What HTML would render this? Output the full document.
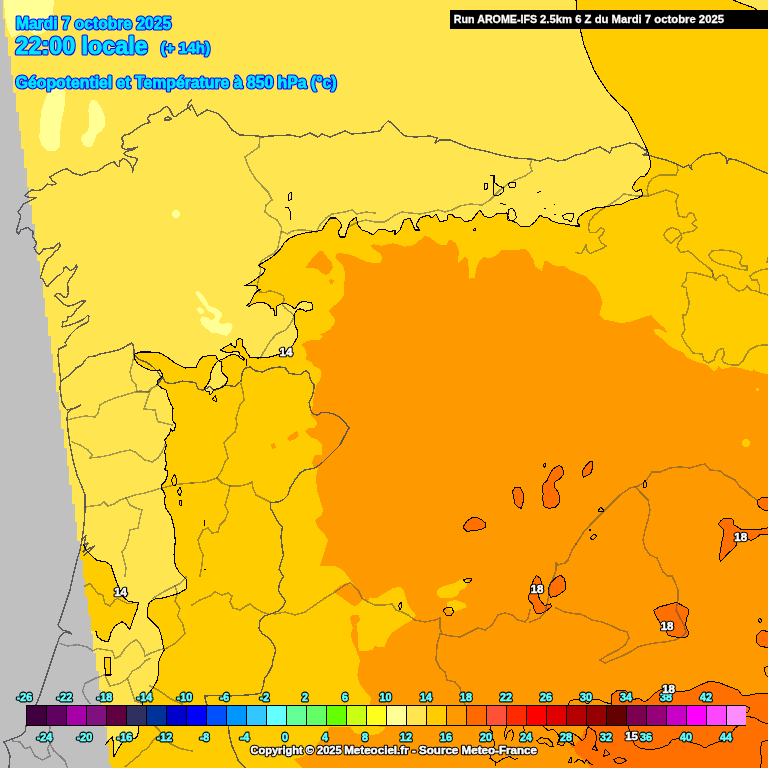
<!DOCTYPE html>
<html><head><meta charset="utf-8"><title>Meteociel AROME 850hPa</title>
<style>
html,body{margin:0;padding:0;background:#FFE650;}
body{width:768px;height:768px;overflow:hidden;font-family:"Liberation Sans",sans-serif;}
svg{display:block;will-change:transform;transform:translateZ(0)}
text{font-family:"Liberation Sans",sans-serif;font-weight:bold;}
.lg{font-size:10.3px;fill:#66FFFF;stroke:#000;stroke-width:2px;paint-order:stroke;text-anchor:middle;stroke-linejoin:round}
.t{fill:#00E1FF;stroke:#0A14FF;stroke-width:2px;paint-order:stroke;stroke-linejoin:round}
.w{fill:#fff;stroke:#000;stroke-width:2px;paint-order:stroke;stroke-linejoin:round}
</style></head><body>
<svg width="768" height="768" viewBox="0 0 768 768">
<rect width="768" height="768" fill="#FFE650"/>
<g shape-rendering="crispEdges">
<polygon points="576,0 577,10 580,28 584,45 588,55 594,70 600,80 608,92 620,105 628,112 635,125 640,135 645,145 648,152 650,160 651,166 648,172 645,176 640,177 636,181 632,188 636,192 641,189 643,195 638,198 630,200 622,204 615,205 605,207 595,208 585,212 579,217 577,222 580,226 575,226 565,224 558,223 552,221 548,218 543,217 540,215 535,222 530,226 524,227 520,226 517,223 512,221 508,220 507,213 496,214 494,216 490,218 484,216 480,210 478,212 472,220 465,222 460,217 455,218 452,214 448,215 447,220 440,222 438,218 436,214 432,218 428,215 420,218 416,225 420,230 415,230 413,225 410,218 404,220 400,230 395,235 395,230 390,232 384,229 378,230 373,235 368,232 362,230 358,225 356,217 350,222 347,230 345,237 340,237 338,232 342,226 340,222 336,218 330,218 325,225 322,230 316,231.5 306.3,232.7 297,235 288.8,238.5 284,243.2 280.5,249 275.9,253.8 270,258.5 263,262.6 258.3,265.5 261.8,267.3 265.3,269.6 263,273.7 258.3,277.2 253.6,280.8 248.9,283.7 244.8,285.4 248.9,286 254.8,285.4 257.1,286.6 257.7,289 260.6,289.5 257.1,291.3 254.8,293.6 252.4,298.3 250,303 246.6,305.4 248.9,306.5 252.4,304.2 255.9,303 263,302.4 267.6,304.2 270,306.5 271.2,308.9 273.5,308.3 274.1,311.2 274.7,315.3 276.4,315.3 276.4,310 277,306 280.5,304.2 285.2,303 288.8,304.8 292.3,306.5 294.6,308.9 295.8,307.7 299.3,303 302.8,301.3 306.3,301.3 307.5,302.4 311.6,303 312.8,306 312.2,309.5 308.7,310.6 305.2,311.2 302.8,309.5 299.9,308.9 297,310 295.2,312.4 294,315 295,325 298,332 297,338 293,345 288,350 280,354 270,357 258,358 250,357.5 248.6,354.5 246.3,352.5 245.5,348.6 243.1,347 242.3,340 240,338 236.9,340 236.9,344.7 235.3,347.4 231.8,345.5 231.4,343.5 229,345 224.4,347.4 220,350.2 224.4,351.7 229,352.9 233.8,351.7 238.4,351.3 240,354.8 242,356.8 244.7,359 244,360.3 240,358 238.4,355.6 233.8,354.5 229,355.2 224.4,358.4 218.5,360.7 217,358.4 215.8,355.6 212.7,355.2 207.2,356 202.5,356.8 199.8,359.5 197.8,363.4 195.9,367.7 190,367.7 185,368 175,363 167,357 160,353 150,352 140,352 135,354 134,358 138,364 145,368 150,370 155,371 159.6,370 163,375 161.3,377.6 158,380.2 157,384.4 161.3,387.8 166.4,390.3 168,397 170.6,403.8 173.1,408 172.3,415.7 173.1,421.6 175.3,424 174.8,430 172.3,431 170.6,428.4 169.8,433.5 166.4,437.7 164.7,440.2 166.4,445.3 164.7,451.2 165.5,458 166.4,464 164.7,469.8 168,470.7 167.2,475.8 165.5,480.8 161.3,485 161.3,488.4 163.8,491.8 165.5,496 164.3,500 165.7,508.2 171.2,516.4 174,527.3 175.3,541 174,554.7 175.3,565.6 179.4,572.5 186.2,579.3 186.2,588.9 179.4,593 171.2,595.7 163,597.9 154.8,599 149.3,602.5 147.4,609.4 148,617.6 152,621.7 158.9,628.5 161.6,636.7 163,645 164.3,649.9 160.2,657.2 158,664 158.9,672.3 157,680.5 153.4,687.3 149.3,692.8 146.6,696.9 142.7,702.4 142,705 138.8,725.8 138.4,731.7 137.5,736.2 135,738.4 129,739.5 122.5,742 118,749.2 114,756.4 113.4,747.3 112.8,736.9 109.5,739.5 105.4,744.7 100,745 100,768 768,768 768,0" fill="#FFCC00"/>
<polygon points="733,0 743,4 754,8 757,10 768,10 768,0" fill="#FFE650"/>
<polygon points="218.5,360.7 221.3,361.9 222,366.6 221.6,371.3 223.6,374.4 226.7,376.7 227.9,379 226.7,382.2 225.2,385.3 221.3,387.7 216.6,388.8 213.4,390 211.9,393.1 210,394.7 209.1,391.6 206.4,391.2 204,389.2 206.4,385.7 208.8,382.2 210.2,379 210.7,373.6 212.7,368.1 215.8,363.4" fill="#FFE650"/>
<polygon points="80,545 83.7,545 86.4,550.6 91.9,556 97.3,560.7 105.5,561.5 111,565.6 113.8,573.8 116.5,582 120.6,591.6 123.3,597 128.8,601.7 138.4,602.5 137,609.4 134.3,616.2 131.5,624.4 129.6,629.9 126,624.4 122,621.7 115,625.8 111,632.6 109.6,638 108.3,641.6 102.8,640.8 97.3,636.7 96,631.3 80,631" fill="#FFCC00"/>
<polygon points="104.2,657.2 110.5,657.2 111,675 105.5,675" fill="#FFCC00"/>
<polygon points="768,374.6 762.7,373.2 756.9,371.5 753.4,369.2 752.2,371.5 744,369.2 738.3,367.6 731.4,367 726.7,368 722,369.2 718.6,366.2 717,369.2 714,371.5 708.2,365.3 701.2,363 694.3,361 687.3,357.6 682.7,352.3 675.7,349.5 670,346 664.2,340.7 659.5,336.8 654.9,333.3 653.7,328.7 659.5,329 667.6,333.3 664.2,327.5 659.5,324 654.9,319.4 651.4,315.2 645.6,316.6 636.3,319.9 629.4,322.2 620,322.9 613.2,321.3 603.9,319.4 599.3,314.8 600.4,310 602.7,302 599.3,292.7 594.6,284.6 591.7,282.3 585.4,276 577,273 569.8,269.8 563.5,265.6 558.3,266.7 552,264.6 547.9,261.5 544.8,260.4 541.7,270.8 535.4,266.7 533.3,259.4 529.2,253 525,249 518.8,249.6 510.4,250.4 502,249.6 497.9,254.2 491.7,257.9 483.3,257.3 479.2,261.5 476,268.8 475,277.5 468.8,278.8 468.8,268.8 467.7,259.4 464.6,256.7 461.5,260.4 457.5,264.2 458.3,257.5 459.2,251.7 457.5,246.7 455,242.5 450.8,239.7 448.3,240.8 446.7,245.3 440,244.7 435,241.7 430,237.5 425,235.8 420,240 416.7,243.3 411.7,245.8 405,246.7 398.3,244.7 393.3,243.3 388.3,244.2 381.7,245.8 373.3,244.2 370,245.8 375,250 380,253.3 382.5,257.5 380,262.5 373.3,263 366.7,261.7 360,259.2 353.3,255.8 346.7,253.7 340,253.3 336,253.7 335.3,258 338,260.6 341.2,263.2 343.8,267 345,273 344.5,280.8 343.8,288.6 344.5,295 340,300.3 335,305 328.3,310.8 332.5,315.8 335,320 334.2,324.2 330,329.2 325,332.5 320,334.2 323.3,336.7 319.2,340 311.7,340 305.8,341.7 301.7,344.7 305,348.3 306.7,355 305.8,359.2 311.7,362.5 313.3,365.8 320,369.2 321.7,373.3 320,380 317,384 315.8,386.7 314.2,393.3 313.3,400 312.5,406.7 310.8,413.3 311.7,416.7 315.8,420 317.5,424.2 314.2,428 308,428 305,432 310,437 318,440 322,445 322,455 315,455 312,462 314,468 318,468 316,478 317,490 320,500 323,510 322,515 315,520 318,527 325,535 328,540 325,550 322,560 320,566 335,566 342.8,570 347.3,575.5 351,581 355.5,587.3 361.9,591.9 363.7,597.3 367.4,601.9 370,597.3 376.5,598.2 383.8,593.7 392.9,588.2 400,586.4 403.8,590 405.6,597.3 407.4,602.8 411,609.2 414.7,612.8 415.6,615.5 411,621 405.6,623.7 398.3,628.3 392,632.8 387.4,639.2 384.7,646.5 380,647.4 374.6,645.6 372.8,650 365.5,651 359.2,651 358,645 357.5,637 357.5,632 356.4,624.6 360,621 359.2,615.5 353.7,614.6 350,617.4 351,622.8 352.8,628.3 351,633.7 351.9,641 355.5,648.3 358.3,655.6 360,661 358.3,668.4 357.3,675.6 359.2,683 362.8,688.4 367.4,693.9 371,697.5 370,704.8 372,726 385.8,727 383.8,730 377.5,734.3 365,735.5 354.6,733 350.4,727 329.6,727 323.3,736.3 317,744 310.8,751 302.5,757 294,759 298,763.4 302.5,768 310,768 768,768" fill="#FF9900"/>
<polygon points="305.4,267.8 312.5,258 319,251.5 322.3,250.8 325.6,255.4 332,262.5 332.7,267.8 329.5,273 325.6,275 321.7,273 317.8,269 311.3,267.8" fill="#FF9900"/>
<polygon points="328.8,280 331.4,278.8 334,280.8 332,284.7 330,283.4" fill="#FF9900"/>
<polygon points="287,438 292,434 297,431 299,436 295,439 289,441" fill="#FF9900"/>
<polygon points="271,444 275,443 276,448 272,449" fill="#FF9900"/>
<polygon points="333.7,591 340,585.5 347.3,582.8 355.5,587.3 363.7,593.7 362.8,600 358.3,604.6 353.7,606.4 349,602.8 343.7,599 337.3,594.6" fill="#FF9900"/>
<polygon points="437,590 440,588 447,585 455,583 460,580 465,578 468,582 466,588 460,590 458,595 452,598 440,598 437,595" fill="#FFCC00"/>
<polygon points="447,602 455,600 465,603 467,607 460,610 452,612 447,608" fill="#FFCC00"/>
<circle cx="746" cy="443" r="4" fill="#FFCC00"/>
<rect x="756" y="388" width="3" height="3" fill="#FFCC00"/>
<polygon points="462.9,527.2 466.9,521.3 471.8,517.7 476.8,517.3 481.7,519.7 485.7,523.3 485.3,527.2 480.7,529.6 473.8,530.8 466.9,531.2" fill="#FF7000" stroke="#000" stroke-width="1" stroke-linejoin="round"/>
<polygon points="512.4,491.6 515,487.2 520.3,487.6 523.3,493.6 523.3,501.5 521.3,508.4 517.3,506.5 514.4,503.5 513.8,496.6" fill="#FF7000" stroke="#000" stroke-width="1" stroke-linejoin="round"/>
<polygon points="549,475.8 553,468.8 558.9,465.5 562.9,467.8 563.3,474.8 559.9,478.7 555,481.7 554,486.7 557.9,491.6 559.9,497.5 558.9,503.5 555,507.4 549,508.4 544.1,506.5 542.7,499.5 543.1,493.6 542.1,488.6 543.5,483.7 547,480.7" fill="#FF7000" stroke="#000" stroke-width="1" stroke-linejoin="round"/>
<polygon points="582.7,470.8 585.7,465.9 589.6,461.9 593,461.5 592.6,467.8 590.6,473.8 586.7,475.8 583.1,477.3" fill="#FF7000" stroke="#000" stroke-width="1" stroke-linejoin="round"/>
<polygon points="718.2,524.4 720.7,520.7 724,518.6 731.5,518.3 733.2,520.3 733.6,524.8 737.3,526.9 741.5,529.8 749.8,530 757.3,529.8 765.7,528.2 769,527.8 769,534 760.7,534.2 755.7,538.2 751.5,540.3 749,539.8 747.3,538.2 736.5,541.5 736,545.7 732.3,549.8 727.3,554 724,558.2 720.7,561.5 719.4,558.2 719.8,554 721,547.3 722.3,539.8 724,532.3 723.2,529 720.7,526.5" fill="#FF7000" stroke="#000" stroke-width="1" stroke-linejoin="round"/>
<polygon points="769,498 763,497 758,500 757.3,504 759,506.5 762.3,509.4 765.7,510.5 769,510.7" fill="#FF7000" stroke="#000" stroke-width="1" stroke-linejoin="round"/>
<polygon points="534,579.2 536.4,575.6 540,578 541.9,584 541,590 538,595 540,600 544.7,605.5 550.7,603.9 551.5,606.7 547.1,610.3 541.2,613.4 536.4,613.9 534,609 532.8,604.3 529.2,600.7 528,597 530.5,592 531.5,585" fill="#FF7000" stroke="#000" stroke-width="1" stroke-linejoin="round"/>
<polygon points="548.3,588.8 550.7,582.8 555.5,578 560.3,575.1 563.9,578 565.8,584 565.1,590 560.3,593.6 555.5,596.7 550.7,597.1 548.3,593.6" fill="#FF7000" stroke="#000" stroke-width="1" stroke-linejoin="round"/>
<polygon points="653.8,610.3 659.7,606.7 669.3,604.3 676.5,602.4 682.5,605.5 688.5,609.1 689,612.7 686.6,617.5 685.6,624.7 687.3,629.5 689,633 687.3,636.7 681.3,637.9 674.1,636.7 668.1,635.5 665.7,630.7 662.1,625.9 657.4,618.7 655,613.9" fill="#FF7000" stroke="#000" stroke-width="1" stroke-linejoin="round"/>
<polygon points="769,632 762,630 757,635 756,642 760,646 769,648" fill="#FF7000" stroke="#000" stroke-width="1" stroke-linejoin="round"/>
<polygon points="590.8,768 586.7,762.7 582.5,758.5 576.3,754.3 574.2,748 576.3,742.9 581.5,737.7 583.5,731.4 587.7,726 611,726 611,705 611,695 618,690 625,690 630,695 633,700 638,698 645,702 650,698 655,693 660,690 665,688 672,690 680,692 690,690 700,685 710,681 720,683 730,687 738,690 742,695 750,695 760,693 768,693 768,768" fill="#FF7000"/>
<polyline points="611,705 611,695 618,690 625,690 630,695 633,700 638,698 645,702 650,698 655,693 660,690 665,688 672,690 680,692 690,690 700,685 710,681 720,683 730,687 738,690 742,695 750,695 760,693 768,693" fill="none" stroke="#000" stroke-width="1" stroke-linejoin="round" stroke-linecap="round" opacity="1"/>
<polygon points="570,744 573,743 576,745 575,748 571,748" fill="#FF7000"/>
<polygon points="4,0 54,0 53,12 50,25 44,33 35,35 28,30 20,33 12,38 8,30 5,15" fill="#FFFF96"/>
<polygon points="48.3,92 52,89 62,89 65,92 65.3,100 64,110 61.7,120 60,133 59.7,146.7 55,151.3 47.5,150.8 41.7,145 39.2,138.3 40.3,123.3 40.8,111.7 44.2,101.7" fill="#FFFF96"/>
<polygon points="91.7,100 96.7,100.8 101.7,108.3 105.3,118.3 105,125.8 101.7,130.8 96.7,134.2 95,140 92.5,145.8 88.3,147.5 83.3,145 80.8,139.2 82,135 85.8,133.3 88.3,130 89.2,120 88.3,110 89.7,103.3" fill="#FFFF96"/>
<polygon points="195.1,292.4 198.8,290.8 202.9,295 206.6,301.3 209.2,306 214.4,307.5 218.5,309.6 222.7,314.8 220.1,319 218.5,322 221.7,324.2 226.9,323 231,322.6 232.6,326.3 231,331.5 226.9,336 222.7,335 217.5,333.5 211.3,332.5 206,328.3 200.8,323 200.3,319 202.4,316.4 207,317.4 211.3,320 214.4,319 214.9,314.8 211.3,312.7 207,310 205,306.5 200.8,301.3 197.2,296" fill="#FFFF96"/>
<polygon points="197.2,308.5 199.8,307 203.4,309.6 204,312.7 200.8,313.8 197.7,311.7" fill="#FFFF96"/>
<circle cx="176" cy="214" r="4" fill="#FFFF96"/>
<polygon points="2.8,0.0 2.8,18.6 5.4,18.6 5.4,37.3 8.1,37.3 8.1,55.9 10.7,55.9 10.7,74.6 13.4,74.6 13.4,93.2 16.1,93.2 16.1,111.9 18.7,111.9 18.7,130.5 21.4,130.5 21.4,149.2 24.0,149.2 24.0,167.8 26.7,167.8 26.7,186.5 29.4,186.5 29.4,205.1 32.0,205.1 32.0,223.8 34.7,223.8 34.7,242.4 37.3,242.4 37.3,261.1 40.0,261.1 40.0,279.8 42.7,279.8 42.7,298.4 45.3,298.4 45.3,317.0 48.0,317.0 48.0,335.7 50.6,335.7 50.6,354.3 53.3,354.3 53.3,373.0 56.0,373.0 56.0,391.6 58.6,391.6 58.6,410.3 61.3,410.3 61.3,428.9 63.9,428.9 63.9,447.6 66.6,447.6 66.6,466.2 69.2,466.2 69.2,484.9 71.9,484.9 71.9,503.5 74.6,503.5 74.6,522.2 77.2,522.2 77.2,540.8 79.9,540.8 79.9,559.5 82.6,559.5 82.6,578.1 85.2,578.1 85.2,596.8 87.9,596.8 87.9,615.4 90.5,615.4 90.5,634.1 93.2,634.1 93.2,652.8 95.9,652.8 95.9,671.4 98.5,671.4 98.5,690.0 101.2,690.0 101.2,708.7 103.8,708.7 103.8,727.3 106.5,727.3 106.5,746.0 109.2,746.0 109.2,764.6 111.8,764.6 111.8,768 0,768 0,0" fill="#C0C0C0"/>
<polyline points="192,100 188.7,102.5 187.5,107.5 191,110" fill="none" stroke="#4d4d55" stroke-width="1.4" stroke-linejoin="round" stroke-linecap="round" opacity="0.9"/>
<polyline points="192,105 185,110 180,113 175,117 172.5,115 170,110 167.5,106.3 163.7,107.5 160,111.3 155,113.7 150,115 147.5,118.7 150,122.5 145,123.7 140,126.3 135,130 130,133.7 125,135 121.3,137.5 123.7,142.5 121.3,147.5 125,149.5 131.3,148.7 137.5,147 132.5,150 126.3,151.3 123.7,153.7 127.5,156.3 133.7,157.5 137.5,158.7 136.3,162.5 133.7,166.3 132.5,172.5 132.5,168.3 130,163.3 126.7,160 123.3,158.3 120,160.8 119.2,166.7 116.7,165.8 114.2,161.7 110,163.3 105,165.8 101.7,168.3 96.7,171.7 91.7,171.3 86.7,173.3 81.7,175.3 76.7,174.2 71.7,172.5 67.5,168.7 63.3,169.7 58.3,172 53.3,175 50,177 51.7,180 54.7,182.5 56.7,183.7 52.5,185 47.5,184.2 45,186.7 41.7,189.7 36.7,190.8 31.7,189.7 28.3,192.5 25,195.8 29.2,197.5 36.7,197.5 31.7,200 26.7,202.5 23.3,204.2 20.8,208.3 18,211.7 20.8,215.8 19.2,221.7 17.5,227.5 16.3,230.8 18.3,234.2 20.8,230 25,228.3 28.3,227.5 30.8,230 33.3,231.7 32.5,236.7 35,240 36.7,243.3 34.2,247.5 35.8,251.7 39.2,254.2 41.7,252.5 43.3,249.2 48.3,248.3 53.3,248 57.5,244.2 59.2,243 60.3,245.8 58.3,249.2 55,251.7 51.7,255.8 47.5,259.2 45,263.3 43.3,268.3 41.7,273.3 40.3,277.5 43.3,280 45.8,285 47.5,286.7 50,283.3 54.2,279.2 57.5,275.8 60.8,274.2 63.3,271.7 64.2,267.5 66.3,266.3 68.3,269.2 70.8,270.8 74.2,268.3 76.7,265 77,267.5 75,271.7 72.5,275.8 69.2,280 67.5,283.3 68,288.3 68.3,293.3 66.7,297.5 63.3,297 60.8,294.2 57.5,293.3 54.7,295.8 58.3,298.3 60.8,301.7 63.3,304.2 68.3,306.2 73.3,305 78.3,302.5 82.5,300.8 85.8,301.2 81.7,305 76.7,309.2 72,316 68,317 67,321 63,322 62,327 70,325 78,322 84,319 88,315 89,316 88,322 82,325 76,329 70,335 67,340 65,343 67,345 63,347 59,349 58,355 59,365 60,375 61,381" fill="none" stroke="#4d4d55" stroke-width="1.4" stroke-linejoin="round" stroke-linecap="round" opacity="0.9"/>
<polyline points="165,118 168,117 172,119 169,120 165,120" fill="none" stroke="#4d4d55" stroke-width="1.4" stroke-linejoin="round" stroke-linecap="round" opacity="0.9"/>
<polyline points="192,105 197,116 207,110 217,113 225,120 232,130 240,135 258,136 262,137 270,136 290,135 300,137 310,133 318,137 322,134 330,137 345,131 352,134 365,133 380,131 384,125 388,121 392,123 400,132 405,136 415,137 430,136 437,138 435,143 440,140 450,140 460,144 470,148 485,151 500,155 515,158 530,159 540,161 548,158 558,161 565,160 576,155 585,153 590,150 600,147 605,150 610,153 612,148 620,146 630,143 636,144 642,148 648,152 643,155 648.5,155 656,157.5 666,160 676,163.7 683.5,167.5 688.5,165 692,170 691,165 696,160 703.5,155 712,153.7 720,152.5 726,157.5 727,163.7 728.5,158.7 736,160 746,163.7 756,168.7 768,173.7" fill="none" stroke="#4d4d55" stroke-width="1.4" stroke-linejoin="round" stroke-linecap="round" opacity="0.9"/>
<polyline points="61,381 67,377 73,372 76,368 82,365 85,360 88,357 95,356 100,354 110,352 118,350 123,348 128,345 132,343 133,345 134,350 134,355 140,360 146,362 152,366 158,372 161,377 157,384.4 159,382.5 163,377.3 165.6,382.5 172,383.8 182.5,381.2 195.5,382.5 198,389 203.3,390.3 209.8,386.4 213.8,390.3 219,389 224.2,385 234.6,386.4 241,381.2 242.4,372 245,368.2 250.2,366.9 255.4,370.8 262,372 271,368.2 280.2,366.9 282.5,367.5 285,367.5 286.7,370 289.2,373.3 295,374.2 300.8,374.2 304.2,371.7 306.7,370.8 309.2,373.3 310,378.3 311.7,382.5 314.2,385 313.7,390 312.5,395 310.8,399.2 309.2,402.5 310,406.7 311.3,411.7 313.3,414.2 317.5,415 321.7,412.5 327.5,412.5 334.2,414.2 340,417.5 344.2,421.7 347.5,425.8 349,428 344,437 340,445 335,450 330,455 322,463 315,468 305,470 300,473 295,480 290,488 288,495 283,500 278,502 270.5,502.6 270.5,508.4 274,514.3 277.6,521.3 282.3,527.2 281,536.6 282.3,548.3 283.4,555.3 281,562.3 279.2,569.4 283.4,576.4 279.5,583.5 278.3,591 282,596 285.7,601 283.3,606 278.3,611 272,613.5 264.5,616 260,621 259,628.5 262,633.5 269.5,638.5 274.5,646 275.7,651 273.3,658.5 272,666 268.3,673.5 264.5,678.5 263.3,686 260.7,693.5 250.7,694.7 239.5,695.5 227,696 214.5,695.5 204.5,696 205.7,701 207,704.7" fill="none" stroke="#4d4d55" stroke-width="1.4" stroke-linejoin="round" stroke-linecap="round" opacity="0.9"/>
<polyline points="228.3,726 229.5,736 232,746 235.7,753.5 238.3,761 245.7,768" fill="none" stroke="#4d4d55" stroke-width="1.4" stroke-linejoin="round" stroke-linecap="round" opacity="0.9"/>
<polyline points="61,381 60,388 61,395 62,402 65,408 67,410 75,408 81,405 72,409 68,412 67,418 68,430 70,445 73,460 77,475 82,487 85,495 85,510 84,525 82,540 80,550 77,560 73,576 70,590 65,605 60,620 58,625 62,630 70,632 72,634 65,632 60,636 55,650 50,665 45,680 40,695 36,705" fill="none" stroke="#4d4d55" stroke-width="1.4" stroke-linejoin="round" stroke-linecap="round" opacity="0.9"/>
<polyline points="82,540 86,535 84,545 88,543 83,552 90,548 95,546 88,552 83,556" fill="none" stroke="#4d4d55" stroke-width="1.4" stroke-linejoin="round" stroke-linecap="round" opacity="0.9"/>
<polyline points="260,137 259,147 245,157 247,163 250,170 255,178 262,186 268,192 272,200 266,205 265,212 270,216 277,220 280,225 281.7,228 281,232.7 280,237.4 278.8,243.2 277.6,249 273.5,253.8 267.6,256.7 261.8,260.8 258.9,265 260.6,269 260,275 258.3,280.8 257,286.6 256.5,290 259.4,292 265.3,292.5 270,290.7 274.7,292 280.5,294.2 283.5,296 284,300.7 282.3,304.2 285.2,308.3 290,311.8 293.4,315.3 293.4,318 291.7,321.7 288,327 285.8,330 280,332.5 276.7,334.2 273,338 270,341.7 267.5,345.5 266,348.5 263,353 260.6,357.8" fill="none" stroke="#4a4a4a" stroke-width="1.5" stroke-linejoin="round" stroke-linecap="round" opacity="0.5"/>
<polyline points="281.7,231.5 287.6,233.9 292.3,231 299.3,229.8 306.3,230.3 316,232 320,225 326,218 332,214 345,212 352,210 357,214 366,212 375,213" fill="none" stroke="#4a4a4a" stroke-width="1.5" stroke-linejoin="round" stroke-linecap="round" opacity="0.5"/>
<polyline points="532,159 530,165 532,171 525,176 515,180 508,184 500,190 495,195 490,200 482,205 470,204 460,206 452,210 445,212 438,210 430,212 420,214 410,213 402,212 395,215 388,220 384,222 375,222 366,220 358,222 350,226" fill="none" stroke="#4a4a4a" stroke-width="1.5" stroke-linejoin="round" stroke-linecap="round" opacity="0.5"/>
<polyline points="67,420 75,418 85,416 95,417 98,413 100,405 105,402 115,398 125,395 135,392 140,391 148,392 152,388 158,385" fill="none" stroke="#4a4a4a" stroke-width="1.5" stroke-linejoin="round" stroke-linecap="round" opacity="0.5"/>
<polyline points="134,355 132,365 130,372 132,380 136,385 137,392 148,392" fill="none" stroke="#4a4a4a" stroke-width="1.5" stroke-linejoin="round" stroke-linecap="round" opacity="0.5"/>
<polyline points="72,442 80,445 88,450 92,455 90,458 100,457 110,455 120,452 130,450 135,452 140,456 145,460 152,462 158,458 162,452 165,445" fill="none" stroke="#4a4a4a" stroke-width="1.5" stroke-linejoin="round" stroke-linecap="round" opacity="0.5"/>
<polyline points="85,507 92,506 100,505 104,502 108,506 114,504 120,500 126,498 135,495 145,493 155,490 162,488" fill="none" stroke="#4a4a4a" stroke-width="1.5" stroke-linejoin="round" stroke-linecap="round" opacity="0.5"/>
<polyline points="126,498 130,505 136,508 142,510 140,518 138,528 130,530 128,540 125,548 122,552 124,560 126,568 125,576" fill="none" stroke="#4a4a4a" stroke-width="1.5" stroke-linejoin="round" stroke-linecap="round" opacity="0.5"/>
<polyline points="192,483 205,482 217,478 222,470 225,462 228,458 226,450 224,443 228,438 235,432 237,425 236,418 240,405 244,400 243,392 241,384" fill="none" stroke="#4a4a4a" stroke-width="1.5" stroke-linejoin="round" stroke-linecap="round" opacity="0.5"/>
<polyline points="217,478 222,483 230,486 240,486 248,484 252,482 253,488 256,495 262,498 270,502" fill="none" stroke="#4a4a4a" stroke-width="1.5" stroke-linejoin="round" stroke-linecap="round" opacity="0.5"/>
<polyline points="230,486 228,495 225,505 228,512 225,520 220,525 218,532 212,533 208,528 203,530 198,540 200,548 203,555 202,565 200,576" fill="none" stroke="#4a4a4a" stroke-width="1.5" stroke-linejoin="round" stroke-linecap="round" opacity="0.5"/>
<polyline points="162,488 170,486 180,484 192,483" fill="none" stroke="#4a4a4a" stroke-width="1.5" stroke-linejoin="round" stroke-linecap="round" opacity="0.5"/>
<polyline points="192,605 200,600 210,596 215,592 222,595 228,593 232,596 230,602 233,608 240,610 246,606 250,604 255,608 262,612 268,614" fill="none" stroke="#4a4a4a" stroke-width="1.5" stroke-linejoin="round" stroke-linecap="round" opacity="0.5"/>
<polyline points="275,614 285,612 295,615 305,612 315,605 325,598 335,592 345,585 350,583 358,590 362,598 368,602 375,605 384,605 392,604 396,610 402,612 408,615 415,620 425,622 435,620 440,618 440,628 442,634 450,636 460,637 470,632 478,628 485,630 492,625 498,615 505,613 512,615 518,620 525,622 528,618 530,610" fill="none" stroke="#4a4a4a" stroke-width="1.5" stroke-linejoin="round" stroke-linecap="round" opacity="0.5"/>
<polyline points="440,634 437,645 436,660 440,668 445,672 447,680 455,682 460,688 462,695 465,705" fill="none" stroke="#4a4a4a" stroke-width="1.5" stroke-linejoin="round" stroke-linecap="round" opacity="0.5"/>
<polyline points="576,544 572,550 568,560 565,563 558,565 556,563 556,570 554,576 550,585 548,600 545,612 540,618 530,622" fill="none" stroke="#4a4a4a" stroke-width="1.5" stroke-linejoin="round" stroke-linecap="round" opacity="0.5"/>
<polyline points="576,544 580,538 583,533 590,525 600,515 610,505 620,495 630,488 638,486 645,482 650,475 652,472 660,472 670,468 680,467 690,468 700,465 705,464 710,470 720,471 725,475 735,480 740,487 745,490 750,495 757,500" fill="none" stroke="#4a4a4a" stroke-width="1.5" stroke-linejoin="round" stroke-linecap="round" opacity="0.5"/>
<polyline points="636,487 640,492 648,500 650,510 648,520 645,530 643,540 645,548 650,555 657,558 660,565 663,572 668,576 672,576 675,582 678,590 678,600 676,610 680,618 684,625 686,632 682,637 675,640 665,642 655,643 645,645 638,647 630,652 622,656 612,660 605,663 600,660 608,655 618,650 625,645 629,638 627,632 620,630 612,626 602,622 592,620 585,616 580,614 576,614 565,612 556,608" fill="none" stroke="#4a4a4a" stroke-width="1.5" stroke-linejoin="round" stroke-linecap="round" opacity="0.5"/>
<polyline points="677,165 678,170 676,175 668.5,175 659.7,175 652,178.7 648.5,183.7 647,190 648.5,196 643.5,196 637,196 629.7,195 623.5,193.7 618.5,198.7 611,203.7 601,210 594.7,215 589.7,221 588.5,227.5 589.7,232.5 596,232.5 601,227.5 604.7,230 602,235 598.5,237.5 601,242.5 606,246 602,248.7 596,251 589.7,253.7 587,250 586,245 583.5,250 581,253.7 576,252.5" fill="none" stroke="#4a4a4a" stroke-width="1.5" stroke-linejoin="round" stroke-linecap="round" opacity="0.5"/>
<polyline points="648.5,196 658.5,192.5 666,190 673.5,192.5 678.5,195 676,201 677,208.7 678.5,216 686,217.5 689.7,212.5 693.5,213.7 696,220 692,223.7 697,227.5 693.5,231 686,232.5 681,233.7 678.5,230 672,227.5 667,230 663.5,235 667,240 671,243.7 676,238.7 681,235 682,237.5 678.5,242.5 677,247.5 681,252.5 688.5,251 693.5,255 698.5,260 703.5,263.7 708.5,267.5 712,271 713.5,275 712,277.5 703.5,275 693.5,272.5 687,272.5 686,280 681.5,285.8 686.2,288 687.3,296.2 689.2,300.9 688.5,307.8 686.2,314.8 682.7,314.8 683.9,324 685,329.8 681.5,335.6 685,342.6 689.7,348.4 693,353 702.4,354.2 703.6,360 708.2,363 714,360 716.3,353 718.6,349.5 723.3,348.4 724.4,354.2 722,358.8 723.3,362.3 729,364.6 738.3,365.3 743,361 746.4,354.2 749.9,349.5 756.9,346 762.7,344.9 768,344.9" fill="none" stroke="#4a4a4a" stroke-width="1.5" stroke-linejoin="round" stroke-linecap="round" opacity="0.5"/>
<polyline points="708.5,255 712,251 721,250 731,251 739.7,253.7 742,257.5 739.7,262.5 742,266 747,266 747,270 741,269.5 733.5,267.5 726,265.5 718.5,263.7 712,260 708.5,255" fill="none" stroke="#4a4a4a" stroke-width="1.5" stroke-linejoin="round" stroke-linecap="round" opacity="0.5"/>
<polyline points="712,271 713.5,277.5 716,280 719.7,276 723.5,275 727,277.5 728.5,283.7 733.5,287.5 738.5,291 743.5,290 747,286 751,290 756,291 759.7,292.5 759.7,286 757,280 752,280 749.7,276 754.7,272.5 761,270 768,268.7" fill="none" stroke="#4a4a4a" stroke-width="1.5" stroke-linejoin="round" stroke-linecap="round" opacity="0.5"/>
<polyline points="759.7,292.5 768,295" fill="none" stroke="#4a4a4a" stroke-width="1.5" stroke-linejoin="round" stroke-linecap="round" opacity="0.5"/>
<polyline points="768,257.5 767,262.5" fill="none" stroke="#4a4a4a" stroke-width="1.5" stroke-linejoin="round" stroke-linecap="round" opacity="0.5"/>
<polyline points="85,586 90,583.5 95,589.7 97.5,593.5 102.5,594.7 105,603.5 110,606 115,599.7 117.5,598.5 122.5,601 127.5,603.5 132.5,603.5" fill="none" stroke="#4a4a4a" stroke-width="1.5" stroke-linejoin="round" stroke-linecap="round" opacity="0.5"/>
<polyline points="152.5,598.5 165,591 175,586 180,583.5 186,577" fill="none" stroke="#4a4a4a" stroke-width="1.5" stroke-linejoin="round" stroke-linecap="round" opacity="0.5"/>
<polyline points="175,586 177.5,593.5 175,601 180,608.5 177.5,616 182.5,623.5 185,633.5 180,638.5 175,643.5 166,648.5" fill="none" stroke="#4a4a4a" stroke-width="1.5" stroke-linejoin="round" stroke-linecap="round" opacity="0.5"/>
<polyline points="60,643.5 67.5,646 77.5,644.7 87.5,647 92.5,651 97.5,648.5 105,649.7 112.5,651 115,658.5 120,656 125,648.5 130,643.5 136,639.7 140,643.5 144,651 145,656 150,653.5 160,649.7 166,648.5" fill="none" stroke="#4a4a4a" stroke-width="1.5" stroke-linejoin="round" stroke-linecap="round" opacity="0.5"/>
<polyline points="105,674.7 95,678.5 85,683.5 82.5,691 86,698.5 90,703.5" fill="none" stroke="#4a4a4a" stroke-width="1.5" stroke-linejoin="round" stroke-linecap="round" opacity="0.5"/>
<polyline points="105,674.7 107.5,681 110,686 120,683.5 127.5,678.5 132.5,671 140,667 145,661 150,658.5" fill="none" stroke="#4a4a4a" stroke-width="1.5" stroke-linejoin="round" stroke-linecap="round" opacity="0.5"/>
<polyline points="127.5,678.5 130,686 132.5,693.5 135,701 142.5,703.5" fill="none" stroke="#4a4a4a" stroke-width="1.5" stroke-linejoin="round" stroke-linecap="round" opacity="0.5"/>
<polyline points="150,686 157.5,689.7 165,694.7 170,698.5 175,701 182,704" fill="none" stroke="#4a4a4a" stroke-width="1.5" stroke-linejoin="round" stroke-linecap="round" opacity="0.5"/>
<polyline points="35,711 30,718.5 26,726 25,732 20,736 10,739.7 4,742 7.5,748.5 10,756 9,768" fill="none" stroke="#4d4d55" stroke-width="1.4" stroke-linejoin="round" stroke-linecap="round" opacity="0.9"/>
<polyline points="12.5,741 20,742 25,748.5 30,747 35,756 42.5,760 50,756 47.5,748.5 50,743.5 54,751 60,756 65,761 67.5,768" fill="none" stroke="#4a4a4a" stroke-width="1.5" stroke-linejoin="round" stroke-linecap="round" opacity="0.5"/>
<polyline points="50,743.5 49,735 50,727" fill="none" stroke="#4a4a4a" stroke-width="1.5" stroke-linejoin="round" stroke-linecap="round" opacity="0.5"/>
<polyline points="160,735 153.8,739.5 147.3,748.6 142,751.2 139.5,755 133,760.3 125,766.8" fill="none" stroke="#4a4a4a" stroke-width="1.5" stroke-linejoin="round" stroke-linecap="round" opacity="0.5"/>
<polyline points="155,726 159,730 161.6,733 170,743.5 180,748.5 192,751" fill="none" stroke="#4a4a4a" stroke-width="1.5" stroke-linejoin="round" stroke-linecap="round" opacity="0.5"/>
<polyline points="150,391.5 144,409 155,410 157.5,421.5 172,425" fill="none" stroke="#4a4a4a" stroke-width="1.5" stroke-linejoin="round" stroke-linecap="round" opacity="0.5"/>
<polyline points="580,28 584,45 588,55 594,70 600,80 608,92 620,105 628,112 635,125 640,135 645,145 648,152 650,160 651,166 648,172 645,176 640,177 636,181 632,188 636,192 641,189 643,195 638,198 630,200 622,204 615,205 605,207 595,208 585,212 579,217 577,222 580,226 575,226 565,224 558,223 552,221 548,218 543,217 540,215 535,222 530,226 524,227 520,226 517,223 512,221 508,220 507,213 496,214 494,216 490,218 484,216 480,210 478,212 472,220 465,222 460,217 455,218 452,214 448,215 447,220 440,222 438,218 436,214 432,218 428,215 420,218 416,225 420,230 415,230 413,225 410,218 404,220 400,230 395,235 395,230 390,232 384,229 378,230 373,235 368,232 362,230 358,225 356,217 350,222 347,230 345,237 340,237 338,232 342,226 340,222 336,218 330,218 325,225 322,230 316,231.5 306.3,232.7 297,235 288.8,238.5 284,243.2 280.5,249 275.9,253.8 270,258.5 263,262.6 258.3,265.5 261.8,267.3 265.3,269.6 263,273.7 258.3,277.2 253.6,280.8 248.9,283.7 244.8,285.4 248.9,286 254.8,285.4 257.1,286.6 257.7,289 260.6,289.5 257.1,291.3 254.8,293.6 252.4,298.3 250,303 246.6,305.4 248.9,306.5 252.4,304.2 255.9,303 263,302.4 267.6,304.2 270,306.5 271.2,308.9 273.5,308.3 274.1,311.2 274.7,315.3 276.4,315.3 276.4,310 277,306 280.5,304.2 285.2,303 288.8,304.8 292.3,306.5 294.6,308.9 295.8,307.7 299.3,303 302.8,301.3 306.3,301.3 307.5,302.4 311.6,303 312.8,306 312.2,309.5 308.7,310.6 305.2,311.2 302.8,309.5 299.9,308.9 297,310 295.2,312.4 294,315 295,325 298,332 297,338 293,345 288,350 280,354 270,357 258,358 250,357.5 248.6,354.5 246.3,352.5 245.5,348.6 243.1,347 242.3,340 240,338 236.9,340 236.9,344.7 235.3,347.4 231.8,345.5 231.4,343.5 229,345 224.4,347.4 220,350.2 224.4,351.7 229,352.9 233.8,351.7 238.4,351.3 240,354.8 242,356.8 244.7,359 244,360.3 240,358 238.4,355.6 233.8,354.5 229,355.2 224.4,358.4 218.5,360.7 217,358.4 215.8,355.6 212.7,355.2 207.2,356 202.5,356.8 199.8,359.5 197.8,363.4 195.9,367.7 190,367.7 185,368 175,363 167,357 160,353 150,352 140,352 135,354 134,358 138,364 145,368 150,370 155,371 159.6,370 163,375 161.3,377.6 158,380.2 157,384.4 161.3,387.8 166.4,390.3 168,397 170.6,403.8 173.1,408 172.3,415.7 173.1,421.6 175.3,424 174.8,430 172.3,431 170.6,428.4 169.8,433.5 166.4,437.7 164.7,440.2 166.4,445.3 164.7,451.2 165.5,458 166.4,464 164.7,469.8 168,470.7 167.2,475.8 165.5,480.8 161.3,485 161.3,488.4 163.8,491.8 165.5,496 164.3,500 165.7,508.2 171.2,516.4 174,527.3 175.3,541 174,554.7 175.3,565.6 179.4,572.5 186.2,579.3 186.2,588.9 179.4,593 171.2,595.7 163,597.9 154.8,599 149.3,602.5 147.4,609.4 148,617.6 152,621.7 158.9,628.5 161.6,636.7 163,645 164.3,649.9 160.2,657.2 158,664 158.9,672.3 157,680.5 153.4,687.3 149.3,692.8 146.6,696.9 142.7,702.4 142,705 138.8,725.8 138.4,731.7 137.5,736.2 135,738.4 129,739.5 122.5,742 118,749.2 114,756.4 113.4,747.3 112.8,736.9 109.5,739.5 105.4,744.7" fill="none" stroke="#000" stroke-width="1.1" stroke-linejoin="round" stroke-linecap="round" opacity="1"/>
<polyline points="576,0 577,10" fill="none" stroke="#000" stroke-width="1.1" stroke-linejoin="round" stroke-linecap="round" opacity="1"/>
<polyline points="733,0 743,4 754,8 757,10" fill="none" stroke="#000" stroke-width="1.1" stroke-linejoin="round" stroke-linecap="round" opacity="1"/>
<polyline points="218.5,360.7 221.3,361.9 222,366.6 221.6,371.3 223.6,374.4 226.7,376.7 227.9,379 226.7,382.2 225.2,385.3 221.3,387.7 216.6,388.8 213.4,390 211.9,393.1 210,394.7 209.1,391.6 206.4,391.2 204,389.2 206.4,385.7 208.8,382.2 210.2,379 210.7,373.6 212.7,368.1 215.8,363.4 218.5,360.7" fill="none" stroke="#000" stroke-width="1.1" stroke-linejoin="round" stroke-linecap="round" opacity="1"/>
<polyline points="83.7,545 86.4,550.6 91.9,556 97.3,560.7 105.5,561.5 111,565.6 113.8,573.8 116.5,582 120.6,591.6 123.3,597 128.8,601.7 138.4,602.5 137,609.4 134.3,616.2 131.5,624.4 129.6,629.9 126,624.4 122,621.7 115,625.8 111,632.6 109.6,638 108.3,641.6 102.8,640.8 97.3,636.7 96,631.3" fill="none" stroke="#000" stroke-width="1.1" stroke-linejoin="round" stroke-linecap="round" opacity="1"/>
<polyline points="104.2,657.2 110.5,657.2 111,675 105.5,675 104.2,657.2" fill="none" stroke="#000" stroke-width="1.1" stroke-linejoin="round" stroke-linecap="round" opacity="1"/>
<polyline points="490.8,726 489.8,729.3 492.9,732.5 490.8,736.6 494,740.8 495,745 491.9,748 489.8,753.3 490.8,758.5 495,761.6 496,765.8" fill="none" stroke="#000" stroke-width="1.0" stroke-linejoin="round" stroke-linecap="round" opacity="1"/>
<polyline points="506.5,726.2 504.4,732.5 505.4,739.8 507.5,732.5 511.7,729.3 513.8,734.5 511.7,740.8" fill="none" stroke="#000" stroke-width="1.0" stroke-linejoin="round" stroke-linecap="round" opacity="1"/>
<polyline points="523,726 524.6,730.4 522,733.5" fill="none" stroke="#000" stroke-width="1.0" stroke-linejoin="round" stroke-linecap="round" opacity="1"/>
<polyline points="536.7,740.8 540.8,737.7 548,738.7 552.3,742.9 553.3,747 549.2,746 545,742.9 539.8,743.5 536.7,740.8" fill="none" stroke="#000" stroke-width="1.0" stroke-linejoin="round" stroke-linecap="round" opacity="1"/>
<polyline points="543,726 548,730.4 553.3,729.3 557.5,733.5 559.6,737.7 557.5,744 562.7,746 565.8,740.8 570,742.9 574.2,746 572,737.7 573,733.5 578.3,736.6 582.5,740.8 585.6,737.7 586.7,729.3 588.8,726.2" fill="none" stroke="#000" stroke-width="1.0" stroke-linejoin="round" stroke-linecap="round" opacity="1"/>
<polyline points="588.8,727.3 595,731.4 597,737.7 595,745" fill="none" stroke="#000" stroke-width="1.0" stroke-linejoin="round" stroke-linecap="round" opacity="1"/>
<polyline points="591.9,749 595,745.6 597.5,750.6 591.9,749" fill="none" stroke="#000" stroke-width="1.0" stroke-linejoin="round" stroke-linecap="round" opacity="1"/>
<polyline points="603.3,756.4 605.4,749 610,754.3 603.3,756.4" fill="none" stroke="#000" stroke-width="1.0" stroke-linejoin="round" stroke-linecap="round" opacity="1"/>
<polyline points="568,762.7 571,757.5 572,762.7 568,762.7" fill="none" stroke="#000" stroke-width="1.0" stroke-linejoin="round" stroke-linecap="round" opacity="1"/>
<polyline points="613.8,759.5 618,757.5 624.2,758.5 626.3,760.6 621,763.7 615.8,762.7 613.8,759.5" fill="none" stroke="#000" stroke-width="1.0" stroke-linejoin="round" stroke-linecap="round" opacity="1"/>
<polyline points="574.2,762.7 578.3,759.5 582.5,760.6 584.2,763.7 586.7,759.5 589.8,763.7 593,764.7" fill="none" stroke="#000" stroke-width="1.0" stroke-linejoin="round" stroke-linecap="round" opacity="1"/>
<polyline points="489.8,758.5 497,762.7 503.3,758.5 509.6,756.4 514.8,759.5 517,758.5" fill="none" stroke="#000" stroke-width="1.0" stroke-linejoin="round" stroke-linecap="round" opacity="1"/>
<polyline points="628.5,726 630,735 635,745 640,748 650,750 660,748 668,745 672,740 680,738 690,742 700,745 705,748 710,745 718,742 725,740 730,735 735,728 738,726" fill="none" stroke="#000" stroke-width="1.0" stroke-linejoin="round" stroke-linecap="round" opacity="1"/>
<polyline points="768,740 762,742 760,750 762,760 760,768" fill="none" stroke="#000" stroke-width="1.0" stroke-linejoin="round" stroke-linecap="round" opacity="1"/>
<polyline points="568,705 570,701 576,699 583,701 588,704 592,700 598,699 604,702 611,704" fill="none" stroke="#000" stroke-width="1.0" stroke-linejoin="round" stroke-linecap="round" opacity="1"/>
<polyline points="746,706 750,708 748,712 744,714" fill="none" stroke="#000" stroke-width="1.0" stroke-linejoin="round" stroke-linecap="round" opacity="1"/>
<polyline points="746,716 755,718 762,722 768,724" fill="none" stroke="#000" stroke-width="1.0" stroke-linejoin="round" stroke-linecap="round" opacity="1"/>
<polyline points="758,620 760,618 762,621 760,623 758,620" fill="none" stroke="#000" stroke-width="1.0" stroke-linejoin="round" stroke-linecap="round" opacity="1"/>
<polyline points="764,668 768,666" fill="none" stroke="#000" stroke-width="1.0" stroke-linejoin="round" stroke-linecap="round" opacity="1"/>
<polyline points="764,668 766,675 768,677" fill="none" stroke="#000" stroke-width="1.0" stroke-linejoin="round" stroke-linecap="round" opacity="1"/>
<polyline points="508.3,209.4 512.5,208.3 515.6,212.5 516.3,217.7 513.5,220.8 509.4,220.4 508,215.6 508.3,209.4" fill="none" stroke="#000" stroke-width="1.0" stroke-linejoin="round" stroke-linecap="round" opacity="1"/>
<polyline points="562.5,215.6 566.7,213.5 573,213 573.3,217.7 570.8,221.9 567.7,219.8 563.5,218.8 562.5,215.6" fill="none" stroke="#000" stroke-width="1.0" stroke-linejoin="round" stroke-linecap="round" opacity="1"/>
<polyline points="494,176 495,183 499,186 504,188 503,192 498,196 494,195 493,188 494,176" fill="none" stroke="#000" stroke-width="1.0" stroke-linejoin="round" stroke-linecap="round" opacity="1"/>
<polyline points="490,176 494,175 495,177" fill="none" stroke="#000" stroke-width="1.0" stroke-linejoin="round" stroke-linecap="round" opacity="1"/>
<polyline points="484,184 487,183 488,188 485,190 484,184" fill="none" stroke="#000" stroke-width="1.0" stroke-linejoin="round" stroke-linecap="round" opacity="1"/>
<polyline points="508,184 511,182 516,183 515,187 510,188 508,184" fill="none" stroke="#000" stroke-width="1.0" stroke-linejoin="round" stroke-linecap="round" opacity="1"/>
<polyline points="473,230 475,228 476,231 473,230" fill="none" stroke="#000" stroke-width="1.0" stroke-linejoin="round" stroke-linecap="round" opacity="1"/>
<polyline points="500,203 506,205" fill="none" stroke="#000" stroke-width="1.0" stroke-linejoin="round" stroke-linecap="round" opacity="1"/>
<polyline points="544,209 546,208" fill="none" stroke="#000" stroke-width="1.0" stroke-linejoin="round" stroke-linecap="round" opacity="1"/>
<polyline points="554,204 555,205" fill="none" stroke="#000" stroke-width="1.0" stroke-linejoin="round" stroke-linecap="round" opacity="1"/>
<polyline points="554,214 556,215" fill="none" stroke="#000" stroke-width="1.0" stroke-linejoin="round" stroke-linecap="round" opacity="1"/>
<polyline points="537,193 541,191" fill="none" stroke="#000" stroke-width="1.0" stroke-linejoin="round" stroke-linecap="round" opacity="1"/>
<polyline points="288,195 291,192 292,199 288,201 288,195" fill="none" stroke="#000" stroke-width="1.0" stroke-linejoin="round" stroke-linecap="round" opacity="1"/>
<polyline points="285,208 288,207 290,211 290,220" fill="none" stroke="#000" stroke-width="1.0" stroke-linejoin="round" stroke-linecap="round" opacity="1"/>
<polyline points="246,359 246,365.4" fill="none" stroke="#000" stroke-width="1.0" stroke-linejoin="round" stroke-linecap="round" opacity="1"/>
<polyline points="246.8,359 246.8,365.4" fill="none" stroke="#000" stroke-width="1.0" stroke-linejoin="round" stroke-linecap="round" opacity="1"/>
<polyline points="212,399.6 215.4,395.4 217.1,402.1 212,399.6" fill="none" stroke="#000" stroke-width="1.0" stroke-linejoin="round" stroke-linecap="round" opacity="1"/>
<polyline points="171.5,480 174.8,474 176.5,480 175.7,486 173.1,485 171.5,480" fill="none" stroke="#000" stroke-width="1.0" stroke-linejoin="round" stroke-linecap="round" opacity="1"/>
<polyline points="177.4,491.8 180,486.8 181.6,491.8 180,496 177.4,491.8" fill="none" stroke="#000" stroke-width="1.0" stroke-linejoin="round" stroke-linecap="round" opacity="1"/>
<polyline points="179,500 181,500 181.5,505 179.5,505 179,500" fill="none" stroke="#000" stroke-width="1.0" stroke-linejoin="round" stroke-linecap="round" opacity="1"/>
<polyline points="643,484 645,480 647,484 646,487 643,487 643,484" fill="none" stroke="#000" stroke-width="1.0" stroke-linejoin="round" stroke-linecap="round" opacity="1"/>
<polyline points="598,511 601,507 604,511 598,511" fill="none" stroke="#000" stroke-width="1.0" stroke-linejoin="round" stroke-linecap="round" opacity="1"/>
<polyline points="590,538 594,534 597,536 593,540 590,538" fill="none" stroke="#000" stroke-width="1.0" stroke-linejoin="round" stroke-linecap="round" opacity="1"/>
<polyline points="589,531 590,529 591,531" fill="none" stroke="#000" stroke-width="1.0" stroke-linejoin="round" stroke-linecap="round" opacity="1"/>
<polyline points="443,610 447,607.5 452,608 453.6,612 451,615.5 446,615 443,610" fill="none" stroke="#000" stroke-width="1.0" stroke-linejoin="round" stroke-linecap="round" opacity="1"/>
<polyline points="463.5,580 467,578.5 472,579 470,582 465,582 463.5,580" fill="none" stroke="#000" stroke-width="1.0" stroke-linejoin="round" stroke-linecap="round" opacity="1"/>
<polyline points="398.5,606 401,602 402,606 400,610 398.5,606" fill="none" stroke="#000" stroke-width="1.0" stroke-linejoin="round" stroke-linecap="round" opacity="1"/>
<polyline points="543.1,465.5 545.1,462.9 546.1,465.9 544.1,467.4 543.1,465.5" fill="none" stroke="#000" stroke-width="1.0" stroke-linejoin="round" stroke-linecap="round" opacity="1"/>
<polyline points="204.5,520 204.5,526" fill="none" stroke="#000" stroke-width="1.0" stroke-linejoin="round" stroke-linecap="round" opacity="1"/>
<polyline points="203.5,569 205.5,569" fill="none" stroke="#000" stroke-width="1.0" stroke-linejoin="round" stroke-linecap="round" opacity="1"/>
</g>
<rect x="26" y="705" width="720" height="21" fill="#000"/>
<rect x="27" y="706" width="19" height="19" fill="#400040"/>
<rect x="47" y="706" width="19" height="19" fill="#600060"/>
<rect x="67" y="706" width="19" height="19" fill="#A800A8"/>
<rect x="87" y="706" width="19" height="19" fill="#801080"/>
<rect x="107" y="706" width="19" height="19" fill="#600040"/>
<rect x="127" y="706" width="19" height="19" fill="#303060"/>
<rect x="147" y="706" width="19" height="19" fill="#003399"/>
<rect x="167" y="706" width="19" height="19" fill="#0000CC"/>
<rect x="187" y="706" width="19" height="19" fill="#0000FF"/>
<rect x="207" y="706" width="19" height="19" fill="#0050FF"/>
<rect x="227" y="706" width="19" height="19" fill="#0096FF"/>
<rect x="247" y="706" width="19" height="19" fill="#32C8FF"/>
<rect x="267" y="706" width="19" height="19" fill="#64FFFF"/>
<rect x="287" y="706" width="19" height="19" fill="#64FF96"/>
<rect x="307" y="706" width="19" height="19" fill="#64FF64"/>
<rect x="327" y="706" width="19" height="19" fill="#64FF00"/>
<rect x="347" y="706" width="19" height="19" fill="#C8FF14"/>
<rect x="367" y="706" width="19" height="19" fill="#FFFF1E"/>
<rect x="387" y="706" width="19" height="19" fill="#FFFF96"/>
<rect x="407" y="706" width="19" height="19" fill="#FFE650"/>
<rect x="427" y="706" width="19" height="19" fill="#FFCC00"/>
<rect x="447" y="706" width="19" height="19" fill="#FF9900"/>
<rect x="467" y="706" width="19" height="19" fill="#FF6A00"/>
<rect x="487" y="706" width="19" height="19" fill="#FF5038"/>
<rect x="507" y="706" width="19" height="19" fill="#FF2A00"/>
<rect x="527" y="706" width="19" height="19" fill="#FF0000"/>
<rect x="547" y="706" width="19" height="19" fill="#E00000"/>
<rect x="567" y="706" width="19" height="19" fill="#B40000"/>
<rect x="587" y="706" width="19" height="19" fill="#960000"/>
<rect x="607" y="706" width="19" height="19" fill="#640000"/>
<rect x="627" y="706" width="19" height="19" fill="#7D0050"/>
<rect x="647" y="706" width="19" height="19" fill="#960078"/>
<rect x="667" y="706" width="19" height="19" fill="#C800C8"/>
<rect x="687" y="706" width="19" height="19" fill="#FF00FF"/>
<rect x="707" y="706" width="19" height="19" fill="#FF46FF"/>
<rect x="727" y="706" width="19" height="19" fill="#FF8CFF"/>
<text x="24.4" y="700.7" font-size="10.7" text-anchor="middle" fill="#000" stroke="#000" stroke-width="2.8000000000000003" stroke-linejoin="round">-26</text>
<text x="24.4" y="700.7" font-size="10.7" text-anchor="middle" fill="#66FFFF" stroke="#66FFFF" stroke-width="0.6" stroke-linejoin="round">-26</text>
<text x="44.4" y="740.8" font-size="10.7" text-anchor="middle" fill="#000" stroke="#000" stroke-width="2.8000000000000003" stroke-linejoin="round">-24</text>
<text x="44.4" y="740.8" font-size="10.7" text-anchor="middle" fill="#66FFFF" stroke="#66FFFF" stroke-width="0.6" stroke-linejoin="round">-24</text>
<text x="64.4" y="700.7" font-size="10.7" text-anchor="middle" fill="#000" stroke="#000" stroke-width="2.8000000000000003" stroke-linejoin="round">-22</text>
<text x="64.4" y="700.7" font-size="10.7" text-anchor="middle" fill="#66FFFF" stroke="#66FFFF" stroke-width="0.6" stroke-linejoin="round">-22</text>
<text x="84.4" y="740.8" font-size="10.7" text-anchor="middle" fill="#000" stroke="#000" stroke-width="2.8000000000000003" stroke-linejoin="round">-20</text>
<text x="84.4" y="740.8" font-size="10.7" text-anchor="middle" fill="#66FFFF" stroke="#66FFFF" stroke-width="0.6" stroke-linejoin="round">-20</text>
<text x="104.4" y="700.7" font-size="10.7" text-anchor="middle" fill="#000" stroke="#000" stroke-width="2.8000000000000003" stroke-linejoin="round">-18</text>
<text x="104.4" y="700.7" font-size="10.7" text-anchor="middle" fill="#66FFFF" stroke="#66FFFF" stroke-width="0.6" stroke-linejoin="round">-18</text>
<text x="124.4" y="740.8" font-size="10.7" text-anchor="middle" fill="#000" stroke="#000" stroke-width="2.8000000000000003" stroke-linejoin="round">-16</text>
<text x="124.4" y="740.8" font-size="10.7" text-anchor="middle" fill="#66FFFF" stroke="#66FFFF" stroke-width="0.6" stroke-linejoin="round">-16</text>
<text x="144.4" y="700.7" font-size="10.7" text-anchor="middle" fill="#000" stroke="#000" stroke-width="2.8000000000000003" stroke-linejoin="round">-14</text>
<text x="144.4" y="700.7" font-size="10.7" text-anchor="middle" fill="#66FFFF" stroke="#66FFFF" stroke-width="0.6" stroke-linejoin="round">-14</text>
<text x="164.4" y="740.8" font-size="10.7" text-anchor="middle" fill="#000" stroke="#000" stroke-width="2.8000000000000003" stroke-linejoin="round">-12</text>
<text x="164.4" y="740.8" font-size="10.7" text-anchor="middle" fill="#66FFFF" stroke="#66FFFF" stroke-width="0.6" stroke-linejoin="round">-12</text>
<text x="184.4" y="700.7" font-size="10.7" text-anchor="middle" fill="#000" stroke="#000" stroke-width="2.8000000000000003" stroke-linejoin="round">-10</text>
<text x="184.4" y="700.7" font-size="10.7" text-anchor="middle" fill="#66FFFF" stroke="#66FFFF" stroke-width="0.6" stroke-linejoin="round">-10</text>
<text x="204.4" y="740.8" font-size="10.7" text-anchor="middle" fill="#000" stroke="#000" stroke-width="2.8000000000000003" stroke-linejoin="round">-8</text>
<text x="204.4" y="740.8" font-size="10.7" text-anchor="middle" fill="#66FFFF" stroke="#66FFFF" stroke-width="0.6" stroke-linejoin="round">-8</text>
<text x="224.4" y="700.7" font-size="10.7" text-anchor="middle" fill="#000" stroke="#000" stroke-width="2.8000000000000003" stroke-linejoin="round">-6</text>
<text x="224.4" y="700.7" font-size="10.7" text-anchor="middle" fill="#66FFFF" stroke="#66FFFF" stroke-width="0.6" stroke-linejoin="round">-6</text>
<text x="244.4" y="740.8" font-size="10.7" text-anchor="middle" fill="#000" stroke="#000" stroke-width="2.8000000000000003" stroke-linejoin="round">-4</text>
<text x="244.4" y="740.8" font-size="10.7" text-anchor="middle" fill="#66FFFF" stroke="#66FFFF" stroke-width="0.6" stroke-linejoin="round">-4</text>
<text x="264.4" y="700.7" font-size="10.7" text-anchor="middle" fill="#000" stroke="#000" stroke-width="2.8000000000000003" stroke-linejoin="round">-2</text>
<text x="264.4" y="700.7" font-size="10.7" text-anchor="middle" fill="#66FFFF" stroke="#66FFFF" stroke-width="0.6" stroke-linejoin="round">-2</text>
<text x="285.0" y="740.8" font-size="10.7" text-anchor="middle" fill="#000" stroke="#000" stroke-width="2.8000000000000003" stroke-linejoin="round">0</text>
<text x="285.0" y="740.8" font-size="10.7" text-anchor="middle" fill="#66FFFF" stroke="#66FFFF" stroke-width="0.6" stroke-linejoin="round">0</text>
<text x="305.0" y="700.7" font-size="10.7" text-anchor="middle" fill="#000" stroke="#000" stroke-width="2.8000000000000003" stroke-linejoin="round">2</text>
<text x="305.0" y="700.7" font-size="10.7" text-anchor="middle" fill="#66FFFF" stroke="#66FFFF" stroke-width="0.6" stroke-linejoin="round">2</text>
<text x="325.0" y="740.8" font-size="10.7" text-anchor="middle" fill="#000" stroke="#000" stroke-width="2.8000000000000003" stroke-linejoin="round">4</text>
<text x="325.0" y="740.8" font-size="10.7" text-anchor="middle" fill="#66FFFF" stroke="#66FFFF" stroke-width="0.6" stroke-linejoin="round">4</text>
<text x="345.0" y="700.7" font-size="10.7" text-anchor="middle" fill="#000" stroke="#000" stroke-width="2.8000000000000003" stroke-linejoin="round">6</text>
<text x="345.0" y="700.7" font-size="10.7" text-anchor="middle" fill="#66FFFF" stroke="#66FFFF" stroke-width="0.6" stroke-linejoin="round">6</text>
<text x="365.0" y="740.8" font-size="10.7" text-anchor="middle" fill="#000" stroke="#000" stroke-width="2.8000000000000003" stroke-linejoin="round">8</text>
<text x="365.0" y="740.8" font-size="10.7" text-anchor="middle" fill="#66FFFF" stroke="#66FFFF" stroke-width="0.6" stroke-linejoin="round">8</text>
<text x="385.5" y="700.7" font-size="10.7" text-anchor="middle" fill="#000" stroke="#000" stroke-width="2.8000000000000003" stroke-linejoin="round">10</text>
<text x="385.5" y="700.7" font-size="10.7" text-anchor="middle" fill="#66FFFF" stroke="#66FFFF" stroke-width="0.6" stroke-linejoin="round">10</text>
<text x="406.0" y="740.8" font-size="10.7" text-anchor="middle" fill="#000" stroke="#000" stroke-width="2.8000000000000003" stroke-linejoin="round">12</text>
<text x="406.0" y="740.8" font-size="10.7" text-anchor="middle" fill="#66FFFF" stroke="#66FFFF" stroke-width="0.6" stroke-linejoin="round">12</text>
<text x="426.0" y="700.7" font-size="10.7" text-anchor="middle" fill="#000" stroke="#000" stroke-width="2.8000000000000003" stroke-linejoin="round">14</text>
<text x="426.0" y="700.7" font-size="10.7" text-anchor="middle" fill="#66FFFF" stroke="#66FFFF" stroke-width="0.6" stroke-linejoin="round">14</text>
<text x="446.0" y="740.8" font-size="10.7" text-anchor="middle" fill="#000" stroke="#000" stroke-width="2.8000000000000003" stroke-linejoin="round">16</text>
<text x="446.0" y="740.8" font-size="10.7" text-anchor="middle" fill="#66FFFF" stroke="#66FFFF" stroke-width="0.6" stroke-linejoin="round">16</text>
<text x="466.0" y="700.7" font-size="10.7" text-anchor="middle" fill="#000" stroke="#000" stroke-width="2.8000000000000003" stroke-linejoin="round">18</text>
<text x="466.0" y="700.7" font-size="10.7" text-anchor="middle" fill="#66FFFF" stroke="#66FFFF" stroke-width="0.6" stroke-linejoin="round">18</text>
<text x="486.0" y="740.8" font-size="10.7" text-anchor="middle" fill="#000" stroke="#000" stroke-width="2.8000000000000003" stroke-linejoin="round">20</text>
<text x="486.0" y="740.8" font-size="10.7" text-anchor="middle" fill="#66FFFF" stroke="#66FFFF" stroke-width="0.6" stroke-linejoin="round">20</text>
<text x="506.0" y="700.7" font-size="10.7" text-anchor="middle" fill="#000" stroke="#000" stroke-width="2.8000000000000003" stroke-linejoin="round">22</text>
<text x="506.0" y="700.7" font-size="10.7" text-anchor="middle" fill="#66FFFF" stroke="#66FFFF" stroke-width="0.6" stroke-linejoin="round">22</text>
<text x="526.0" y="740.8" font-size="10.7" text-anchor="middle" fill="#000" stroke="#000" stroke-width="2.8000000000000003" stroke-linejoin="round">24</text>
<text x="526.0" y="740.8" font-size="10.7" text-anchor="middle" fill="#66FFFF" stroke="#66FFFF" stroke-width="0.6" stroke-linejoin="round">24</text>
<text x="546.0" y="700.7" font-size="10.7" text-anchor="middle" fill="#000" stroke="#000" stroke-width="2.8000000000000003" stroke-linejoin="round">26</text>
<text x="546.0" y="700.7" font-size="10.7" text-anchor="middle" fill="#66FFFF" stroke="#66FFFF" stroke-width="0.6" stroke-linejoin="round">26</text>
<text x="566.0" y="740.8" font-size="10.7" text-anchor="middle" fill="#000" stroke="#000" stroke-width="2.8000000000000003" stroke-linejoin="round">28</text>
<text x="566.0" y="740.8" font-size="10.7" text-anchor="middle" fill="#66FFFF" stroke="#66FFFF" stroke-width="0.6" stroke-linejoin="round">28</text>
<text x="586.0" y="700.7" font-size="10.7" text-anchor="middle" fill="#000" stroke="#000" stroke-width="2.8000000000000003" stroke-linejoin="round">30</text>
<text x="586.0" y="700.7" font-size="10.7" text-anchor="middle" fill="#66FFFF" stroke="#66FFFF" stroke-width="0.6" stroke-linejoin="round">30</text>
<text x="606.0" y="740.8" font-size="10.7" text-anchor="middle" fill="#000" stroke="#000" stroke-width="2.8000000000000003" stroke-linejoin="round">32</text>
<text x="606.0" y="740.8" font-size="10.7" text-anchor="middle" fill="#66FFFF" stroke="#66FFFF" stroke-width="0.6" stroke-linejoin="round">32</text>
<text x="626.0" y="700.7" font-size="10.7" text-anchor="middle" fill="#000" stroke="#000" stroke-width="2.8000000000000003" stroke-linejoin="round">34</text>
<text x="626.0" y="700.7" font-size="10.7" text-anchor="middle" fill="#66FFFF" stroke="#66FFFF" stroke-width="0.6" stroke-linejoin="round">34</text>
<text x="646.0" y="740.8" font-size="10.7" text-anchor="middle" fill="#000" stroke="#000" stroke-width="2.8000000000000003" stroke-linejoin="round">36</text>
<text x="646.0" y="740.8" font-size="10.7" text-anchor="middle" fill="#66FFFF" stroke="#66FFFF" stroke-width="0.6" stroke-linejoin="round">36</text>
<text x="666.0" y="700.7" font-size="10.7" text-anchor="middle" fill="#000" stroke="#000" stroke-width="2.8000000000000003" stroke-linejoin="round">38</text>
<text x="666.0" y="700.7" font-size="10.7" text-anchor="middle" fill="#66FFFF" stroke="#66FFFF" stroke-width="0.6" stroke-linejoin="round">38</text>
<text x="686.0" y="740.8" font-size="10.7" text-anchor="middle" fill="#000" stroke="#000" stroke-width="2.8000000000000003" stroke-linejoin="round">40</text>
<text x="686.0" y="740.8" font-size="10.7" text-anchor="middle" fill="#66FFFF" stroke="#66FFFF" stroke-width="0.6" stroke-linejoin="round">40</text>
<text x="706.0" y="700.7" font-size="10.7" text-anchor="middle" fill="#000" stroke="#000" stroke-width="2.8000000000000003" stroke-linejoin="round">42</text>
<text x="706.0" y="700.7" font-size="10.7" text-anchor="middle" fill="#66FFFF" stroke="#66FFFF" stroke-width="0.6" stroke-linejoin="round">42</text>
<text x="726.0" y="740.8" font-size="10.7" text-anchor="middle" fill="#000" stroke="#000" stroke-width="2.8000000000000003" stroke-linejoin="round">44</text>
<text x="726.0" y="740.8" font-size="10.7" text-anchor="middle" fill="#66FFFF" stroke="#66FFFF" stroke-width="0.6" stroke-linejoin="round">44</text>
<rect x="450" y="10" width="318" height="19" fill="#000"/>
<text x="453.8" y="22.8" font-size="11" fill="#fff" stroke="#fff" stroke-width="0.3" textLength="83.4" lengthAdjust="spacingAndGlyphs">Run AROME-IFS</text>
<text x="540" y="22.8" font-size="11" fill="#fff" stroke="#fff" stroke-width="0.3" textLength="184" lengthAdjust="spacingAndGlyphs">2.5km 6 Z du Mardi 7 octobre 2025</text>
<text x="15.9" y="28.8" font-size="16" textLength="155.2" lengthAdjust="spacingAndGlyphs" fill="#0000F5" stroke="#0000F5" stroke-width="3.0" stroke-linejoin="round">Mardi 7 octobre 2025</text>
<text x="15.9" y="28.8" font-size="16" textLength="155.2" lengthAdjust="spacingAndGlyphs" fill="#00E6FF" stroke="#00E6FF" stroke-width="0.8" stroke-linejoin="round">Mardi 7 octobre 2025</text>
<text x="15.6" y="54.1" font-size="24" textLength="132" lengthAdjust="spacingAndGlyphs" fill="#0000F5" stroke="#0000F5" stroke-width="3.2" stroke-linejoin="round">22:00 locale</text>
<text x="15.6" y="54.1" font-size="24" textLength="132" lengthAdjust="spacingAndGlyphs" fill="#00E6FF" stroke="#00E6FF" stroke-width="1.0" stroke-linejoin="round">22:00 locale</text>
<text x="160.7" y="52.6" font-size="15.2" textLength="49.3" lengthAdjust="spacingAndGlyphs" fill="#0000F5" stroke="#0000F5" stroke-width="3.0" stroke-linejoin="round">(+ 14h)</text>
<text x="160.7" y="52.6" font-size="15.2" textLength="49.3" lengthAdjust="spacingAndGlyphs" fill="#00E6FF" stroke="#00E6FF" stroke-width="0.8" stroke-linejoin="round">(+ 14h)</text>
<text x="15.8" y="88.0" font-size="15.6" textLength="320.7" lengthAdjust="spacingAndGlyphs" fill="#0000F5" stroke="#0000F5" stroke-width="3.0" stroke-linejoin="round">Géopotentiel et Température à 850 hPa (°c)</text>
<text x="15.8" y="88.0" font-size="15.6" textLength="320.7" lengthAdjust="spacingAndGlyphs" fill="#00E6FF" stroke="#00E6FF" stroke-width="0.8" stroke-linejoin="round">Géopotentiel et Température à 850 hPa (°c)</text>
<text x="250.4" y="754" font-size="11.3" textLength="91.3" lengthAdjust="spacingAndGlyphs" fill="#000" stroke="#000" stroke-width="2.7" stroke-linejoin="round">Copyright © 2025</text>
<text x="250.4" y="754" font-size="11.3" textLength="91.3" lengthAdjust="spacingAndGlyphs" fill="#fff" stroke="#fff" stroke-width="0.5" stroke-linejoin="round">Copyright © 2025</text>
<text x="344.2" y="754" font-size="11.3" textLength="192.8" lengthAdjust="spacingAndGlyphs" fill="#000" stroke="#000" stroke-width="2.7" stroke-linejoin="round">Meteociel.fr - Source Meteo-France</text>
<text x="344.2" y="754" font-size="11.3" textLength="192.8" lengthAdjust="spacingAndGlyphs" fill="#fff" stroke="#fff" stroke-width="0.5" stroke-linejoin="round">Meteociel.fr - Source Meteo-France</text>
<text x="279.54999999999995" y="355.8" font-size="10.4" textLength="12.7" lengthAdjust="spacingAndGlyphs" fill="#000" stroke="#000" stroke-width="2.7" stroke-linejoin="round">14</text>
<text x="279.54999999999995" y="355.8" font-size="10.4" textLength="12.7" lengthAdjust="spacingAndGlyphs" fill="#fff" stroke="#fff" stroke-width="0.5" stroke-linejoin="round">14</text>
<text x="114.25" y="596" font-size="10.4" textLength="12.7" lengthAdjust="spacingAndGlyphs" fill="#000" stroke="#000" stroke-width="2.7" stroke-linejoin="round">14</text>
<text x="114.25" y="596" font-size="10.4" textLength="12.7" lengthAdjust="spacingAndGlyphs" fill="#fff" stroke="#fff" stroke-width="0.5" stroke-linejoin="round">14</text>
<text x="734.35" y="540.6" font-size="10.4" textLength="12.7" lengthAdjust="spacingAndGlyphs" fill="#000" stroke="#000" stroke-width="2.7" stroke-linejoin="round">18</text>
<text x="734.35" y="540.6" font-size="10.4" textLength="12.7" lengthAdjust="spacingAndGlyphs" fill="#fff" stroke="#fff" stroke-width="0.5" stroke-linejoin="round">18</text>
<text x="530.65" y="593" font-size="10.4" textLength="12.7" lengthAdjust="spacingAndGlyphs" fill="#000" stroke="#000" stroke-width="2.7" stroke-linejoin="round">18</text>
<text x="530.65" y="593" font-size="10.4" textLength="12.7" lengthAdjust="spacingAndGlyphs" fill="#fff" stroke="#fff" stroke-width="0.5" stroke-linejoin="round">18</text>
<text x="660.65" y="629.7" font-size="10.4" textLength="12.7" lengthAdjust="spacingAndGlyphs" fill="#000" stroke="#000" stroke-width="2.7" stroke-linejoin="round">18</text>
<text x="660.65" y="629.7" font-size="10.4" textLength="12.7" lengthAdjust="spacingAndGlyphs" fill="#fff" stroke="#fff" stroke-width="0.5" stroke-linejoin="round">18</text>
<text x="662.15" y="692.5" font-size="10.4" textLength="12.7" lengthAdjust="spacingAndGlyphs" fill="#000" stroke="#000" stroke-width="2.7" stroke-linejoin="round">18</text>
<text x="662.15" y="692.5" font-size="10.4" textLength="12.7" lengthAdjust="spacingAndGlyphs" fill="#fff" stroke="#fff" stroke-width="0.5" stroke-linejoin="round">18</text>
<text x="625.15" y="740" font-size="10.4" textLength="12.7" lengthAdjust="spacingAndGlyphs" fill="#000" stroke="#000" stroke-width="2.7" stroke-linejoin="round">15</text>
<text x="625.15" y="740" font-size="10.4" textLength="12.7" lengthAdjust="spacingAndGlyphs" fill="#fff" stroke="#fff" stroke-width="0.5" stroke-linejoin="round">15</text>
</svg>
</body></html>
